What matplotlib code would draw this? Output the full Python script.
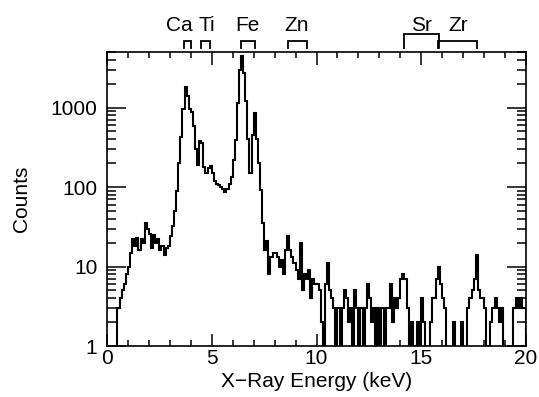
import matplotlib
matplotlib.use("Agg")
import matplotlib.pyplot as plt
import matplotlib.ticker as mticker
import matplotlib.transforms as mtransforms
import numpy as np

plt.rcParams['font.family'] = ['Liberation Sans', 'DejaVu Sans']

# Spectrum: 0.1 keV bins from 0 to 20 keV
bin_width = 0.1
counts = [
    # 0.0 - 0.9
    0, 0, 0, 0, 0, 3, 4, 5, 6, 8,
    # 1.0 - 1.9
    10, 15, 22, 18, 23, 16, 22, 20, 35, 30,
    # 2.0 - 2.9
    26, 17, 25, 20, 22, 16, 18, 14, 17, 18,
    # 3.0 - 3.9
    24, 32, 50, 90, 200, 430, 950, 1800, 1400, 950,
    # 4.0 - 4.9
    890, 580, 300, 190, 380, 360, 180, 150, 175, 185,
    # 5.0 - 5.9
    150, 120, 110, 105, 100, 95, 87, 95, 110, 135,
    # 6.0 - 6.9
    220, 390, 1150, 3000, 4400, 2750, 1200, 400, 150, 450,
    # 7.0 - 7.9
    850, 400, 200, 92, 35, 16, 21, 8, 13, 15,
    # 8.0 - 8.9
    15, 13, 10, 12, 8, 16, 24, 16, 13, 11,
    # 9.0 - 9.9
    9, 7, 20, 5, 8, 7, 9, 4, 7, 6,
    # 10.0 - 10.9
    6, 5, 2, 0, 6, 11, 5, 4, 3, 1,
    # 11.0 - 11.9
    3, 0, 3, 5, 4, 2, 3, 1, 5, 3,
    # 12.0 - 12.9
    1, 3, 1, 3, 6, 4, 2, 3, 1, 3,
    # 13.0 - 13.9
    1, 3, 1, 3, 3, 6, 2, 4, 3, 4,
    # 14.0 - 14.9
    7, 8, 7, 3, 1, 2, 0, 1, 2, 0,
    # 15.0 - 15.9
    4, 2, 1, 0, 2, 4, 4, 7, 10, 6,
    # 16.0 - 16.9
    4, 3, 0, 0, 0, 2, 0, 0, 0, 2,
    # 17.0 - 17.9
    0, 0, 3, 4, 5, 7, 14, 5, 4, 4,
    # 18.0 - 18.9
    3, 0, 1, 2, 3, 4, 3, 2, 3, 1,
    # 19.0 - 19.9
    0, 0, 0, 0, 3, 4, 3, 4, 3, 3,
]

elements = ["Ca", "Ti", "Fe", "Zn", "Sr", "Zr"]
label_x = [3.45, 4.75, 6.7, 9.05, 15.0, 16.75]
line_ka = [3.69, 4.51, 6.40, 8.64, 14.16, 15.78]
line_kb = [4.01, 4.93, 7.06, 9.57, 15.84, 17.67]
bracket_h = [1.037, 1.037, 1.037, 1.037, 1.062, 1.037]

x_ticks = [0, 5, 10, 15, 20]
y_ticks = [1, 10, 100, 1000]
y_ticklabels = ["1", "10", "100", "1000"]

fig = plt.figure(figsize=(5.39, 3.97), dpi=100)
ax = fig.add_axes([107/539, 51/397, 419/539, 294/397])

edges = np.arange(len(counts) + 1) * bin_width
ax.stairs(np.array(counts, dtype=float), edges, color='black', lw=1.5)

ax.set_yscale('log')
ax.set_xlim(0, 20)
ax.set_ylim(1, 5000)

ax.xaxis.set_major_locator(mticker.FixedLocator(x_ticks))
ax.xaxis.set_minor_locator(mticker.MultipleLocator(1))
ax.yaxis.set_major_locator(mticker.FixedLocator(y_ticks))
ax.yaxis.set_major_formatter(mticker.FixedFormatter(y_ticklabels))
ax.yaxis.set_minor_locator(mticker.LogLocator(base=10, subs=np.arange(2, 10)))
ax.yaxis.set_minor_formatter(mticker.NullFormatter())

ax.tick_params(axis='both', which='both', direction='in', top=True, right=True,
               labelsize=15, width=1.1, color='black')
ax.tick_params(axis='x', which='major', length=9, pad=2)
ax.tick_params(axis='x', which='minor', length=4.5)
ax.tick_params(axis='y', which='major', length=14, pad=7)
ax.tick_params(axis='y', which='minor', length=6.5)
for s in ax.spines.values():
    s.set_linewidth(1.2)

ax.set_xlabel("X\u2212Ray Energy (keV)", fontsize=15, labelpad=3)
ax.set_ylabel("Counts", fontsize=15, labelpad=14)

trans = mtransforms.blended_transform_factory(ax.transData, ax.transAxes)
base = 1.0136
for name, lx, a, b, h in zip(elements, label_x, line_ka, line_kb, bracket_h):
    ax.plot([a, a, b, b], [base, h, h, base], color='black', lw=1.3,
            transform=trans, clip_on=False, solid_joinstyle='miter')
    ax.text(lx, 1.07, name, transform=trans, ha='center', va='baseline', fontsize=15)

fig.savefig("out.png", dpi=100)
